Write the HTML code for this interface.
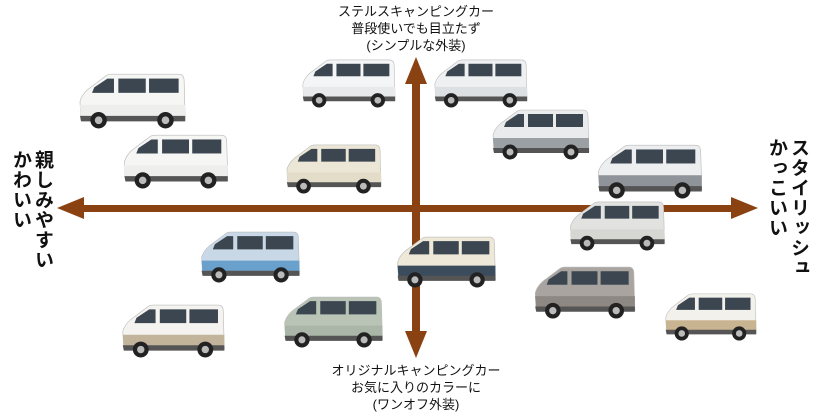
<!DOCTYPE html>
<html><head><meta charset="utf-8"><style>
html,body{margin:0;padding:0;background:#fff;width:832px;height:416px;overflow:hidden}
.t{position:absolute;left:0;width:832px;text-align:center;font-family:"Liberation Sans","Noto Sans CJK JP",sans-serif;font-size:13px;line-height:17px;color:#111}
.v{position:absolute;writing-mode:vertical-rl;font-family:"Liberation Sans","Noto Sans CJK JP",sans-serif;font-size:19px;font-weight:bold;color:#111;letter-spacing:1px}
</style></head><body>
<svg width="832" height="416" style="position:absolute;left:0;top:0">
<defs>
<symbol id="van" viewBox="0 0 100 52">
<path d="M4,44 L3,27 Q5,19 14,13 L26,4 Q28,2 32,2 L93,2 Q98,2 98,8 L99,44 Z" fill="var(--b)" stroke="#bbb" stroke-width="0.6"/>
<path d="M3,30 L99,30 L99,44 L4,44 Z" fill="var(--l)"/>
<path d="M16,14 L28,6 L34,6 L34,19 L14,19 Z" fill="#3c4650"/>
<rect x="38" y="6" width="25" height="13" fill="#3c4650"/>
<rect x="66" y="6" width="27" height="13" fill="#3c4650"/>
<path d="M3,40 L99,40 L99,45 L4,45 Z" fill="#555"/>
<circle cx="20" cy="44" r="7.5" fill="#222"/><circle cx="20" cy="44" r="3.5" fill="#bbb"/>
<circle cx="81" cy="44" r="7.5" fill="#222"/><circle cx="81" cy="44" r="3.5" fill="#bbb"/>
</symbol>
</defs>
<g fill="#8a4212" stroke="none">
<rect x="78" y="205" width="660" height="7"/>
<rect x="412" y="80" width="8" height="258"/>
<polygon points="57,208 84,197 84,219"/>
<polygon points="758,208 731,197 731,219"/>
<polygon points="416,57 405,84 427,84"/>
<polygon points="416,358 405,331 427,331"/>
</g>
<use href="#van" x="75" y="72" width="113" height="57" style="--b:#f6f6f4;--l:#eeeeec"/>
<use href="#van" x="298" y="58" width="100" height="50" style="--b:#f4f5f6;--l:#e8e9ea"/>
<use href="#van" x="430" y="58" width="100" height="50" style="--b:#eef0f2;--l:#dde0e3"/>
<use href="#van" x="488" y="108" width="104" height="52" style="--b:#e9ebec;--l:#9aa0a4"/>
<use href="#van" x="118" y="133" width="114" height="56" style="--b:#f6f6f4;--l:#eeeeec"/>
<use href="#van" x="283" y="143" width="100" height="51" style="--b:#ece6d6;--l:#e3dcc9"/>
<use href="#van" x="593" y="143" width="112" height="56" style="--b:#eceef0;--l:#8e9499"/>
<use href="#van" x="565" y="200" width="103" height="51" style="--b:#e2e2e0;--l:#d6d6d3"/>
<use href="#van" x="197" y="230" width="105" height="53" style="--b:#c8d8e6;--l:#6aa0cc"/>
<use href="#van" x="393" y="235" width="105" height="53" style="--b:#eee8d8;--l:#3b4d5c"/>
<use href="#van" x="530" y="265" width="108" height="54" style="--b:#a9a4a0;--l:#8e8884"/>
<use href="#van" x="118" y="303" width="109" height="55" style="--b:#f4f3ef;--l:#c2b49a"/>
<use href="#van" x="277" y="295" width="111" height="53" style="--b:#b9c4b6;--l:#aab6a8"/>
<use href="#van" x="660" y="292" width="100" height="49" style="--b:#f3f1ec;--l:#c9b491"/>
</svg>
<div class="t" style="top:3px">ステルスキャンピングカー<br>普段使いでも目立たず<br>(シンプルな外装)</div>
<div class="t" style="top:362px">オリジナルキャンピングカー<br>お気に入りのカラーに<br>(ワンオフ外装)</div>
<div class="v" style="left:29px;top:150px">親しみやすい</div>
<div class="v" style="left:7px;top:150px">かわいい</div>
<div class="v" style="left:785px;top:138px">スタイリッシュ</div>
<div class="v" style="left:763px;top:138px">かっこいい</div>
</body></html>
